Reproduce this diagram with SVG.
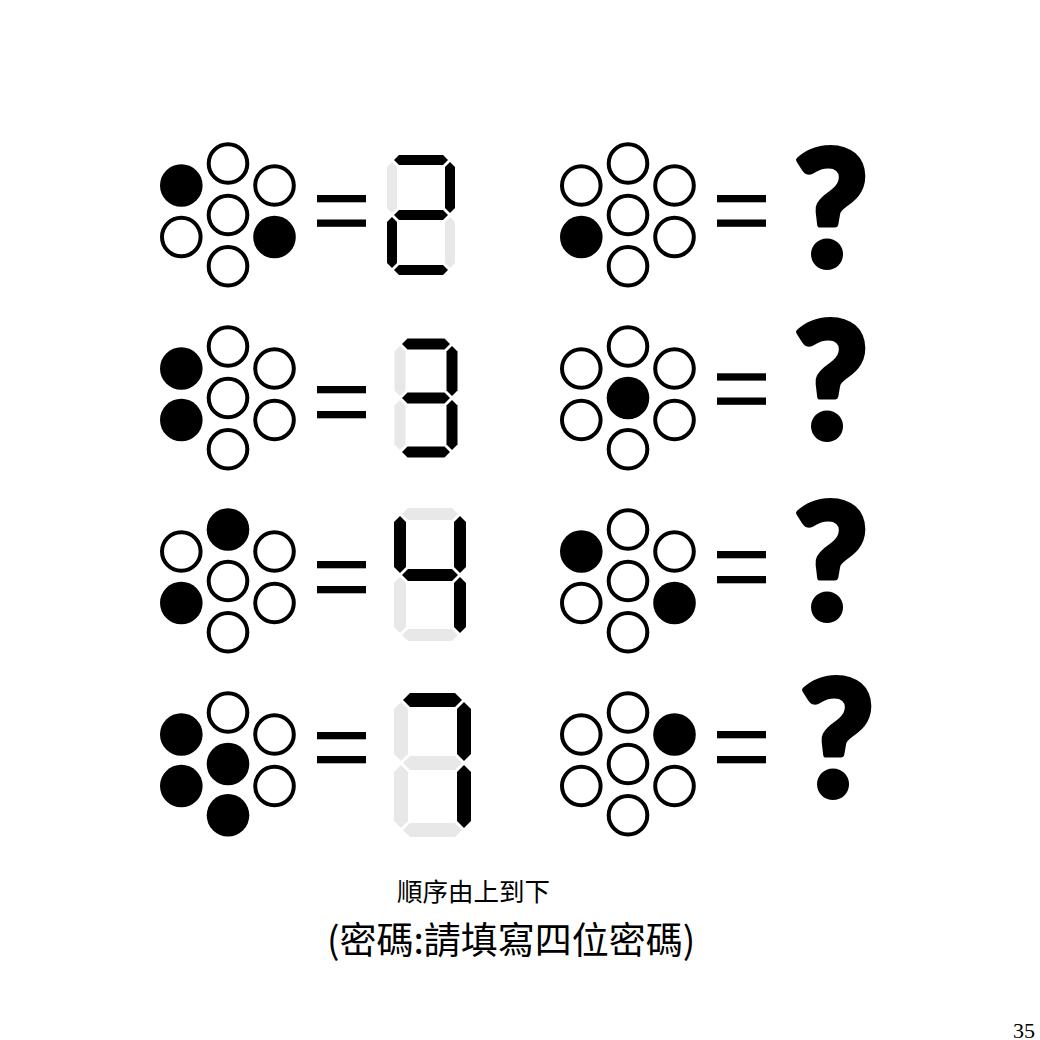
<svg xmlns="http://www.w3.org/2000/svg" width="1040" height="1040" viewBox="0 0 1040 1040">
<style>
.off{fill:#fff;stroke:#000;stroke-width:4}
.on{fill:#000}
.bar{fill:#000}
.sOn{fill:#000}
.sOff{fill:#e8e8e8}
.q{font-family:Lato,"Noto Sans",sans-serif;font-weight:900;font-size:160px;fill:#000;stroke:#000;stroke-width:6;stroke-linejoin:round;text-anchor:middle}
.cap{font-family:"Noto Sans CJK TC","Noto Sans CJK SC",sans-serif;fill:#000}
</style>
<rect width="1040" height="1040" fill="#fff"/>
<g id="connectors"/>

<!-- Row 1 -->
<g id="flower-1-left" transform="translate(228,215)">
<circle class="off" cx="0" cy="-51.5" r="19.3"/>
<circle class="on" cx="-46.7" cy="-29.5" r="21.3"/>
<circle class="off" cx="46.5" cy="-29.5" r="19.3"/>
<circle class="off" cx="0" cy="0" r="19.3"/>
<circle class="off" cx="-46.7" cy="22" r="19.3"/>
<circle class="on" cx="46.5" cy="22" r="21.3"/>
<circle class="off" cx="0" cy="51.3" r="19.3"/>
</g>
<g id="equals-1-left"><rect class="bar" x="317" y="195" width="49" height="7.3"/><rect class="bar" x="317" y="219.5" width="49" height="7.3"/></g>
<g id="digit-2">
<polygon class="sOn" points="394,160 399,155 443,155 448,160 443,165 399,165"/>
<polygon class="sOn" points="394,215 399,210 443,210 448,215 443,220 399,220"/>
<polygon class="sOn" points="394,270 399,265 443,265 448,270 443,275 399,275"/>
<polygon class="sOff" points="392,162 397,167 397,208 392,213 387,208 387,167"/>
<polygon class="sOn" points="450,162 455,167 455,208 450,213 445,208 445,167"/>
<polygon class="sOn" points="392,217 397,222 397,263 392,268 387,263 387,222"/>
<polygon class="sOff" points="450,217 455,222 455,263 450,268 445,263 445,222"/>
</g>
<g id="flower-1-right" transform="translate(628,215)">
<circle class="off" cx="0" cy="-51.5" r="19.3"/>
<circle class="off" cx="-46.7" cy="-29.5" r="19.3"/>
<circle class="off" cx="46.5" cy="-29.5" r="19.3"/>
<circle class="off" cx="0" cy="0" r="19.3"/>
<circle class="on" cx="-46.7" cy="22" r="21.3"/>
<circle class="off" cx="46.5" cy="22" r="19.3"/>
<circle class="off" cx="0" cy="51.3" r="19.3"/>
</g>
<g id="equals-1-right"><rect class="bar" x="717" y="195" width="49" height="7.3"/><rect class="bar" x="717" y="219.5" width="49" height="7.3"/></g>
<g id="question-1"><text class="q" x="831" y="266">?</text></g>

<!-- Row 2 -->
<g id="flower-2-left" transform="translate(228,398)">
<circle class="off" cx="0" cy="-51.5" r="19.3"/>
<circle class="on" cx="-46.7" cy="-29.5" r="21.3"/>
<circle class="off" cx="46.5" cy="-29.5" r="19.3"/>
<circle class="off" cx="0" cy="0" r="19.3"/>
<circle class="on" cx="-46.7" cy="22" r="21.3"/>
<circle class="off" cx="46.5" cy="22" r="19.3"/>
<circle class="off" cx="0" cy="51.3" r="19.3"/>
</g>
<g id="equals-2-left"><rect class="bar" x="317" y="386" width="49" height="7.3"/><rect class="bar" x="317" y="411" width="49" height="7.3"/></g>
<g id="digit-3">
<polygon class="sOn" points="402,344 407.5,338.5 444.5,338.5 450,344 444.5,349.5 407.5,349.5"/>
<polygon class="sOn" points="402,398 407.5,392.5 444.5,392.5 450,398 444.5,403.5 407.5,403.5"/>
<polygon class="sOn" points="402,452 407.5,446.5 444.5,446.5 450,452 444.5,457.5 407.5,457.5"/>
<polygon class="sOff" points="400,346 405.5,351.5 405.5,390.5 400,396 394.5,390.5 394.5,351.5"/>
<polygon class="sOn" points="452,346 457.5,351.5 457.5,390.5 452,396 446.5,390.5 446.5,351.5"/>
<polygon class="sOff" points="400,400 405.5,405.5 405.5,444.5 400,450 394.5,444.5 394.5,405.5"/>
<polygon class="sOn" points="452,400 457.5,405.5 457.5,444.5 452,450 446.5,444.5 446.5,405.5"/>
</g>
<g id="flower-2-right" transform="translate(628,398)">
<circle class="off" cx="0" cy="-51.5" r="19.3"/>
<circle class="off" cx="-46.7" cy="-29.5" r="19.3"/>
<circle class="off" cx="46.5" cy="-29.5" r="19.3"/>
<circle class="on" cx="0" cy="0" r="21.3"/>
<circle class="off" cx="-46.7" cy="22" r="19.3"/>
<circle class="off" cx="46.5" cy="22" r="19.3"/>
<circle class="off" cx="0" cy="51.3" r="19.3"/>
</g>
<g id="equals-2-right"><rect class="bar" x="717" y="373.3" width="49" height="7.3"/><rect class="bar" x="717" y="397.5" width="49" height="7.3"/></g>
<g id="question-2"><text class="q" x="831" y="438">?</text></g>

<!-- Row 3 -->
<g id="flower-3-left" transform="translate(228,581)">
<circle class="on" cx="0" cy="-51.5" r="21.3"/>
<circle class="off" cx="-46.7" cy="-29.5" r="19.3"/>
<circle class="off" cx="46.5" cy="-29.5" r="19.3"/>
<circle class="off" cx="0" cy="0" r="19.3"/>
<circle class="on" cx="-46.7" cy="22" r="21.3"/>
<circle class="off" cx="46.5" cy="22" r="19.3"/>
<circle class="off" cx="0" cy="51.3" r="19.3"/>
</g>
<g id="equals-3-left"><rect class="bar" x="317" y="561" width="49" height="7.3"/><rect class="bar" x="317" y="586" width="49" height="7.3"/></g>
<g id="digit-4">
<polygon class="sOff" points="402,514 408,508 452,508 458,514 452,520 408,520"/>
<polygon class="sOn" points="402,575 408,569 452,569 458,575 452,581 408,581"/>
<polygon class="sOff" points="402,635 408,629 452,629 458,635 452,641 408,641"/>
<polygon class="sOn" points="400,516 406,522 406,567 400,573 394,567 394,522"/>
<polygon class="sOn" points="460,516 466,522 466,567 460,573 454,567 454,522"/>
<polygon class="sOff" points="400,577 406,583 406,627 400,633 394,627 394,583"/>
<polygon class="sOn" points="460,577 466,583 466,627 460,633 454,627 454,583"/>
</g>
<g id="flower-3-right" transform="translate(628,581)">
<circle class="off" cx="0" cy="-51.5" r="19.3"/>
<circle class="on" cx="-46.7" cy="-29.5" r="21.3"/>
<circle class="off" cx="46.5" cy="-29.5" r="19.3"/>
<circle class="off" cx="0" cy="0" r="19.3"/>
<circle class="off" cx="-46.7" cy="22" r="19.3"/>
<circle class="on" cx="46.5" cy="22" r="21.3"/>
<circle class="off" cx="0" cy="51.3" r="19.3"/>
</g>
<g id="equals-3-right"><rect class="bar" x="717" y="551" width="49" height="7.3"/><rect class="bar" x="717" y="576" width="49" height="7.3"/></g>
<g id="question-3"><text class="q" x="831" y="619">?</text></g>

<!-- Row 4 -->
<g id="flower-4-left" transform="translate(228,764)">
<circle class="off" cx="0" cy="-51.5" r="19.3"/>
<circle class="on" cx="-46.7" cy="-29.5" r="21.3"/>
<circle class="off" cx="46.5" cy="-29.5" r="19.3"/>
<circle class="on" cx="0" cy="0" r="21.3"/>
<circle class="on" cx="-46.7" cy="22" r="21.3"/>
<circle class="off" cx="46.5" cy="22" r="19.3"/>
<circle class="on" cx="0" cy="51.3" r="21.3"/>
</g>
<g id="equals-4-left"><rect class="bar" x="317" y="732" width="49" height="7.3"/><rect class="bar" x="317" y="756" width="49" height="7.3"/></g>
<g id="digit-7">
<polygon class="sOn" points="403,700 410,693 455,693 462,700 455,707 410,707"/>
<polygon class="sOff" points="403,763 410,756 455,756 462,763 455,770 410,770"/>
<polygon class="sOff" points="403,830 410,823 455,823 462,830 455,837 410,837"/>
<polygon class="sOff" points="401,702 408,709 408,754 401,761 394,754 394,709"/>
<polygon class="sOn" points="464,702 471,709 471,754 464,761 457,754 457,709"/>
<polygon class="sOff" points="401,765 408,772 408,821 401,828 394,821 394,772"/>
<polygon class="sOn" points="464,765 471,772 471,821 464,828 457,821 457,772"/>
</g>
<g id="flower-4-right" transform="translate(628,764)">
<circle class="off" cx="0" cy="-51.5" r="19.3"/>
<circle class="off" cx="-46.7" cy="-29.5" r="19.3"/>
<circle class="on" cx="46.5" cy="-29.5" r="21.3"/>
<circle class="off" cx="0" cy="0" r="19.3"/>
<circle class="off" cx="-46.7" cy="22" r="19.3"/>
<circle class="off" cx="46.5" cy="22" r="19.3"/>
<circle class="off" cx="0" cy="51.3" r="19.3"/>
</g>
<g id="equals-4-right"><rect class="bar" x="717" y="731" width="49" height="7.3"/><rect class="bar" x="717" y="756" width="49" height="7.3"/></g>
<g id="question-4"><text class="q" x="837" y="796">?</text></g>

<g id="caption">
<text class="cap" x="397" y="901" font-size="25.5">順序由上到下</text>
<text class="cap" x="327" y="954" font-size="37">(密碼:請填寫四位密碼)</text>
</g>
<text x="1013" y="1038" font-family="Liberation Serif, serif" font-size="22" fill="#000">35</text>
</svg>
